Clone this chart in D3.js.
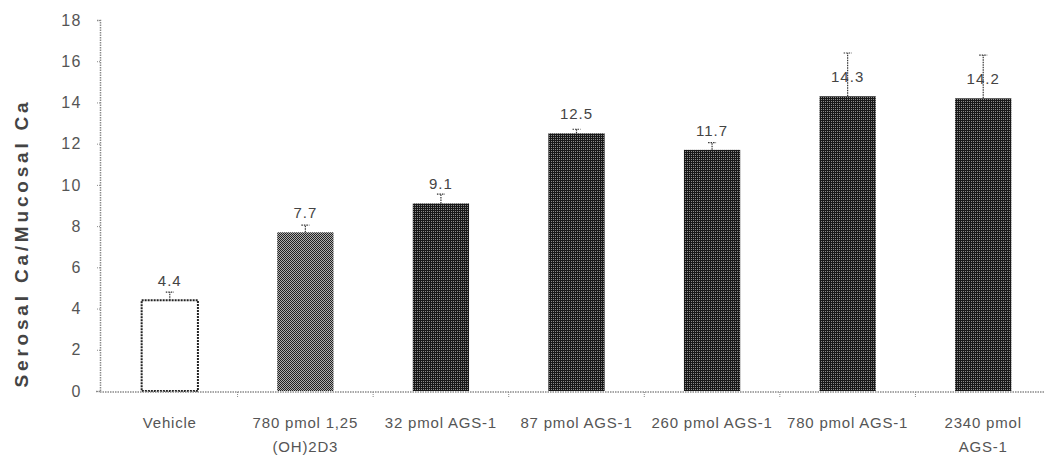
<!DOCTYPE html>
<html>
<head>
<meta charset="utf-8">
<script src="https://cdn.jsdelivr.net/npm/d3@7"></script>
<style>
  html, body { margin: 0; padding: 0; background: #fff; }
  svg { display: block; }
  text { font-family: Arial, "Liberation Sans", sans-serif; }
</style>
</head>
<body>
<svg id="chart" width="1044" height="463"></svg>
<script>
const categories = [
  ["Vehicle"],
  ["780 pmol 1,25", "(OH)2D3"],
  ["32 pmol AGS-1"],
  ["87 pmol AGS-1"],
  ["260 pmol AGS-1"],
  ["780 pmol AGS-1"],
  ["2340 pmol", "AGS-1"]
];
const values = [4.4, 7.7, 9.1, 12.5, 11.7, 14.3, 14.2];
const errors = [0.4, 0.35, 0.45, 0.2, 0.35, 2.1, 2.1];
const fillKinds = ["white", "gray", "dark", "dark", "dark", "dark", "dark"];
const yTicks = [0, 2, 4, 6, 8, 10, 12, 14, 16, 18];
const yTitle = "Serosal Ca/Mucosal Ca";

const svg = d3.select("#chart");
const defs = svg.append("defs");

// dither-like textures
const pDark = defs.append("pattern").attr("id", "pDark")
  .attr("patternUnits", "userSpaceOnUse").attr("width", 2).attr("height", 2);
pDark.append("rect").attr("width", 2).attr("height", 2).attr("fill", "#181818");
pDark.append("rect").attr("x", 1).attr("y", 1).attr("width", 1).attr("height", 1).attr("fill", "#8a8a8a");

const pGray = defs.append("pattern").attr("id", "pGray")
  .attr("patternUnits", "userSpaceOnUse").attr("width", 2).attr("height", 2);
pGray.append("rect").attr("width", 2).attr("height", 2).attr("fill", "#b0b0b0");
pGray.append("rect").attr("x", 0).attr("y", 0).attr("width", 1).attr("height", 1).attr("fill", "#222");
pGray.append("rect").attr("x", 1).attr("y", 1).attr("width", 1).attr("height", 1).attr("fill", "#222");

const fills = { white: "#ffffff", gray: "url(#pGray)", dark: "url(#pDark)" };

const x = d3.scaleBand()
  .domain(d3.range(categories.length))
  .range([102, 1051])
  .paddingInner(0.585)
  .paddingOuter(0.2925);

const y = d3.scaleLinear().domain([0, 18]).range([391, 20]);

const axisColor = "#8a8a8a";
const textColor = "#555";

// Y axis
const yAxis = svg.append("g").attr("transform", "translate(100,0)")
  .call(d3.axisLeft(y).tickValues(yTicks).tickSize(4).tickPadding(14).tickFormat(d3.format("d")));
yAxis.select(".domain").attr("stroke", axisColor).attr("stroke-dasharray", "1.5,1").attr("stroke-width", 1.5);
yAxis.selectAll(".tick line").attr("stroke", axisColor).attr("stroke-dasharray", "1,1");
yAxis.selectAll(".tick text")
  .attr("fill", textColor).style("font-size", "16px").style("letter-spacing", "1.5px");

// Y title
svg.append("text")
  .attr("transform", "translate(28,243) rotate(-90)")
  .attr("text-anchor", "middle")
  .style("font-size", "19px").style("font-weight", "bold").style("letter-spacing", "3.8px")
  .attr("fill", "#444")
  .text(yTitle);

// Bars
const barG = svg.append("g");
barG.selectAll("rect")
  .data(values)
  .join("rect")
  .attr("x", (d, i) => x(i))
  .attr("y", d => y(d))
  .attr("width", x.bandwidth())
  .attr("height", d => y(0) - y(d))
  .attr("fill", (d, i) => fills[fillKinds[i]])
  .attr("stroke", (d, i) => fillKinds[i] === "white" ? "#222" : "none")
  .attr("stroke-width", 2)
  .attr("stroke-dasharray", (d, i) => fillKinds[i] === "white" ? "2,1" : null);

// Error bars
const errG = svg.append("g").attr("stroke", "#333").attr("stroke-width", 1.2).attr("stroke-dasharray", "1.5,1");
values.forEach((v, i) => {
  const cx = x(i) + x.bandwidth() / 2;
  errG.append("line").attr("x1", cx).attr("x2", cx).attr("y1", y(v)).attr("y2", y(v + errors[i]));
  errG.append("line").attr("x1", cx - 4).attr("x2", cx + 4).attr("y1", y(v + errors[i])).attr("y2", y(v + errors[i]));
});

// X axis
const xAxisG = svg.append("g").attr("transform", "translate(0,392)");
xAxisG.append("line").attr("x1", 100).attr("x2", 1044).attr("y1", 0).attr("y2", 0)
  .attr("stroke", axisColor).attr("stroke-width", 1.5).attr("stroke-dasharray", "1.5,1");
const bounds = d3.range(1, categories.length).map(i => x(i) - x.step() * x.paddingInner() / 2);
xAxisG.selectAll(".ctick").data(bounds).join("line")
  .attr("x1", d => d).attr("x2", d => d).attr("y1", 0).attr("y2", 5)
  .attr("stroke", axisColor).attr("stroke-dasharray", "1,1");

// Value labels
svg.append("g").selectAll("text")
  .data(values).join("text")
  .attr("x", (d, i) => x(i) + x.bandwidth() / 2)
  .attr("y", d => y(d) - 14)
  .attr("text-anchor", "middle")
  .attr("fill", "#444")
  .style("font-size", "15px").style("letter-spacing", "1px")
  .text(d => d.toFixed(1));

// Category labels
const catG = svg.append("g");
categories.forEach((lines, i) => {
  const t = catG.append("text")
    .attr("x", x(i) + x.bandwidth() / 2)
    .attr("y", 428)
    .attr("text-anchor", "middle")
    .attr("fill", textColor)
    .style("font-size", "15px").style("letter-spacing", "0.8px");
  lines.forEach((ln, j) => {
    t.append("tspan").attr("x", x(i) + x.bandwidth() / 2).attr("dy", j === 0 ? 0 : 24).text(ln);
  });
});
</script>
</body>
</html>
